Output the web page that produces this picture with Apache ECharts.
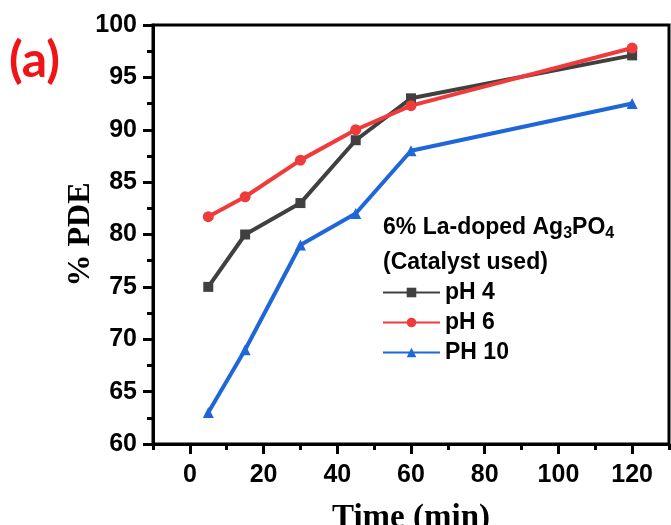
<!DOCTYPE html>
<html>
<head>
<meta charset="utf-8">
<script src="https://cdn.jsdelivr.net/npm/echarts@6/dist/echarts.min.js"></script>
<style>html,body{margin:0;padding:0;background:#fff}#c{width:671px;height:525px}</style>
</head>
<body>
<div id="c"></div>
<script>
const times = [5, 15, 30, 45, 60, 120];
const ph4 = [75.0, 80.0, 83.0, 89.0, 93.0, 97.1];
const ph6 = [81.7, 83.6, 87.1, 90.0, 92.3, 97.8];
const ph10 = [63.0, 69.0, 79.0, 82.0, 88.0, 92.5];
const seriesNames = ['pH 4', 'pH 6', 'PH 10'];
const xLabelStep = 20;

const pair = (xs, ys) => xs.map((x, i) => [x, ys[i]]);
const chart = echarts.init(document.getElementById('c'), null, {renderer: 'canvas'});
const axisLineStyle = {color: '#000', width: 3};
const tickStyle = {width: 3, color: '#000'};
const labelFont = {fontFamily: 'Liberation Sans', fontWeight: 'bold', fontSize: 25, color: '#000'};

chart.setOption({
  backgroundColor: '#fff',
  animation: false,
  grid: {left: 153, right: 2, top: 25, bottom: 81, show: true, borderColor: '#000', borderWidth: 3, outerBoundsMode: 'none', containLabel: false},
  xAxis: [{
    // ticks at odd tens are short; minor ticks at even tens are long
    type: 'value', min: -10, max: 130, interval: 20,
    axisLine: {show: true, onZero: false, lineStyle: axisLineStyle},
    axisTick: {show: true, inside: false, length: 6, lineStyle: tickStyle},
    minorTick: {show: true, splitNumber: 2, length: 10, lineStyle: tickStyle},
    axisLabel: {show: false},
    splitLine: {show: false},
    name: 'Time (min)', nameLocation: 'middle', nameGap: 58, nameMoveOverlap: false,
    nameTextStyle: {fontFamily: 'Liberation Serif', fontWeight: 'bold', fontSize: 33, color: '#000'}
  }, {
    type: 'value', min: -10, max: 130, interval: 10, position: 'bottom',
    axisLine: {show: false, onZero: false},
    axisTick: {show: false},
    axisLabel: Object.assign({
      margin: 19,
      formatter: v => (v >= 0 && v % xLabelStep === 0 && v <= 120) ? String(v) : ''
    }, labelFont),
    splitLine: {show: false}
  }],
  yAxis: {
    type: 'value', min: 60, max: 100, interval: 5,
    axisLine: {show: true, onZero: false, lineStyle: axisLineStyle},
    axisTick: {show: true, inside: false, length: 10, lineStyle: tickStyle},
    minorTick: {show: true, splitNumber: 2, length: 6, lineStyle: tickStyle},
    axisLabel: Object.assign({margin: 16}, labelFont),
    splitLine: {show: false},
    name: '% PDE', nameLocation: 'middle', nameGap: 56, nameRotate: 90, nameMoveOverlap: false,
    nameTextStyle: {fontFamily: 'Liberation Serif', fontWeight: 'bold', fontSize: 32, color: '#000'}
  },
  legend: {
    orient: 'vertical', left: 377, top: 276, itemWidth: 57, itemHeight: 12, itemGap: 7,
    textStyle: {fontFamily: 'Liberation Sans', fontWeight: 'bold', fontSize: 23, color: '#000'},
    data: seriesNames
  },
  graphic: [{
    type: 'text', left: 9, top: 36,
    style: {text: '(a)', fill: '#f01414', font: 'bold 50px "Lato"'}
  }, {
    type: 'text', left: 383, top: 216,
    style: {
      text: '6% La-doped Ag{s|3}PO{s|4}',
      font: 'bold 23px "Liberation Sans"', fill: '#000',
      rich: {s: {font: 'bold 16px "Liberation Sans"', fill: '#000', padding: [12, 0, 0, 0]}}
    }
  }, {
    type: 'text', left: 383, top: 251,
    style: {text: '(Catalyst used)', font: 'bold 23px "Liberation Sans"', fill: '#000'}
  }],
  series: [{
    name: seriesNames[0], type: 'line', data: pair(times, ph4),
    symbol: 'rect', symbolSize: 10,
    lineStyle: {width: 4, color: '#404040'}, itemStyle: {color: '#404040'}
  }, {
    name: seriesNames[1], type: 'line', data: pair(times, ph6),
    symbol: 'circle', symbolSize: 11,
    lineStyle: {width: 4, color: '#ef3b3b'}, itemStyle: {color: '#ef3b3b'}
  }, {
    name: seriesNames[2], type: 'line', data: pair(times, ph10),
    symbol: 'triangle', symbolSize: 11,
    lineStyle: {width: 4, color: '#1f67d8'}, itemStyle: {color: '#1f67d8'}
  }]
});
</script>
</body>
</html>
